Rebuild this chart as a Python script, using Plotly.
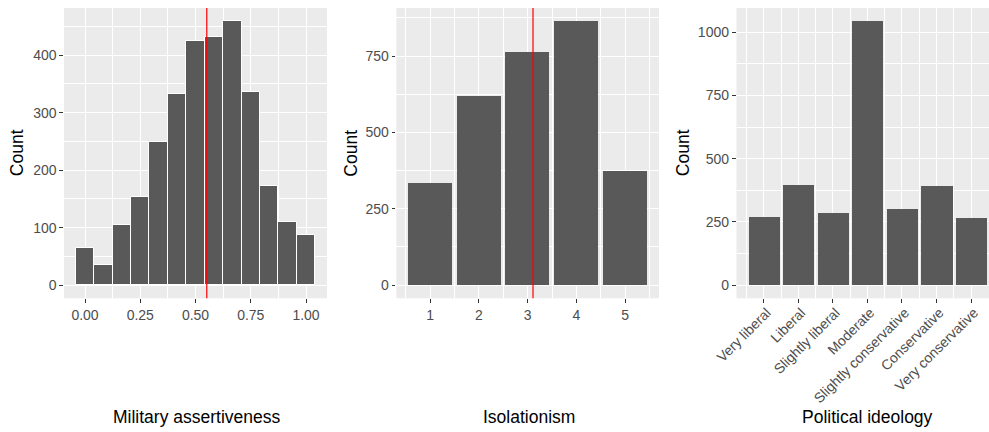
import plotly.graph_objects as go
from plotly.subplots import make_subplots

# ---- data ----
mil_bins = [i / 12 for i in range(13)]
mil_counts = [65, 35, 105, 154, 249, 332, 424, 431, 459, 335, 172, 109, 88]
mil_mean = 0.551

iso_levels = [1, 2, 3, 4, 5]
iso_counts = [333, 618, 762, 864, 375]
iso_mean = 3.11

ideo_labels = ["Very liberal", "Liberal", "Slightly liberal", "Moderate",
               "Slightly conservative", "Conservative", "Very conservative"]
ideo_pos = [1, 2, 3, 4, 5, 6, 7]
ideo_counts = [271, 394, 287, 1044, 299, 390, 267]

W, H = 989, 432
BAR = "#595959"
PANEL = "#EBEBEB"
FONT = "Liberation Sans, Arial, sans-serif"

fig = make_subplots(rows=1, cols=3)

fig.add_trace(go.Bar(x=mil_bins, y=mil_counts, width=1 / 12, marker=dict(color=BAR, line=dict(color="white", width=1)),
                     hoverinfo="skip"), row=1, col=1)
fig.add_trace(go.Bar(x=iso_levels, y=iso_counts, width=0.9, marker=dict(color=BAR, line=dict(width=0)),
                     hoverinfo="skip"), row=1, col=2)
fig.add_trace(go.Bar(x=ideo_pos, y=ideo_counts, width=0.9, marker=dict(color=BAR, line=dict(width=0)),
                     hoverinfo="skip"), row=1, col=3)

ydom = [(H - 298.3) / H, (H - 8) / H]
xdoms = [[64 / W, 327 / W], [396.3 / W, 659 / W], [736.5 / W, 1.0]]

tickfont = dict(family=FONT, size=14, color="#4D4D4D")
common = dict(showline=False, zeroline=False, ticks="outside", ticklen=3.7, tickwidth=1.07,
              tickcolor="#333333", tickfont=tickfont, showgrid=True, gridcolor="white",
              gridwidth=1.07, automargin=False, fixedrange=True)

def minor(t0, dt):
    return dict(tick0=t0, dtick=dt, showgrid=True, gridcolor="white", gridwidth=0.53, ticks="")

# panel 1
fig.update_xaxes(domain=xdoms[0], range=[-0.095, 1.095], tickmode="array",
                 tickvals=[0, 0.25, 0.5, 0.75, 1.0], ticktext=["0.00", "0.25", "0.50", "0.75", "1.00"],
                 minor=minor(0.125, 0.25), row=1, col=1, **common)
fig.update_yaxes(domain=ydom, range=[-22.95, 481.95], tickmode="array", tickvals=[0, 100, 200, 300, 400],
                 minor=minor(50, 100), row=1, col=1, **common)
# panel 2
fig.update_xaxes(domain=xdoms[1], range=[0.305, 5.695], tickmode="array", tickvals=iso_levels,
                 minor=minor(0.5, 1), row=1, col=2, **common)
fig.update_yaxes(domain=ydom, range=[-43.2, 907.2], tickmode="array", tickvals=[0, 250, 500, 750],
                 minor=minor(125, 250), row=1, col=2, **common)
# panel 3
fig.update_xaxes(domain=xdoms[2], range=[0.21, 7.52], tickmode="array", tickvals=ideo_pos,
                 ticktext=ideo_labels, tickangle=-45, minor=minor(0.5, 1),
                 ticklabelshift=3, ticklabelstandoff=-4, row=1, col=3, **common)
fig.update_yaxes(domain=ydom, range=[-52.2, 1095.8], tickmode="array", tickvals=[0, 250, 500, 750, 1000],
                 minor=minor(125, 250), row=1, col=3, **common)

fig.add_shape(type="line", xref="x", yref="y domain", x0=mil_mean, x1=mil_mean, y0=0, y1=1,
              line=dict(color="red", width=1.2))
fig.add_shape(type="line", xref="x2", yref="y2 domain", x0=iso_mean, x1=iso_mean, y0=0, y1=1,
              line=dict(color="red", width=1.2))

titlefont = dict(family=FONT, size=17.5, color="black")
ycen = (H - (8 + 298.3) / 2) / H
for xp in [17, 351.5, 683]:
    fig.add_annotation(x=xp / W, y=ycen, xref="paper", yref="paper", text="Count", textangle=-90,
                       showarrow=False, font=titlefont, xanchor="center", yanchor="middle")
for xp, t in [(196.5, "Military assertiveness"), (529, "Isolationism"), (867, "Political ideology")]:
    fig.add_annotation(x=xp / W, y=(H - 417) / H, xref="paper", yref="paper", text=t,
                       showarrow=False, font=titlefont, xanchor="center", yanchor="middle")

fig.update_layout(width=W, height=H, margin=dict(l=0, r=0, t=0, b=0), showlegend=False,
                  plot_bgcolor=PANEL, paper_bgcolor="white", bargap=0, font=dict(family=FONT))

fig.write_html("out.html")
